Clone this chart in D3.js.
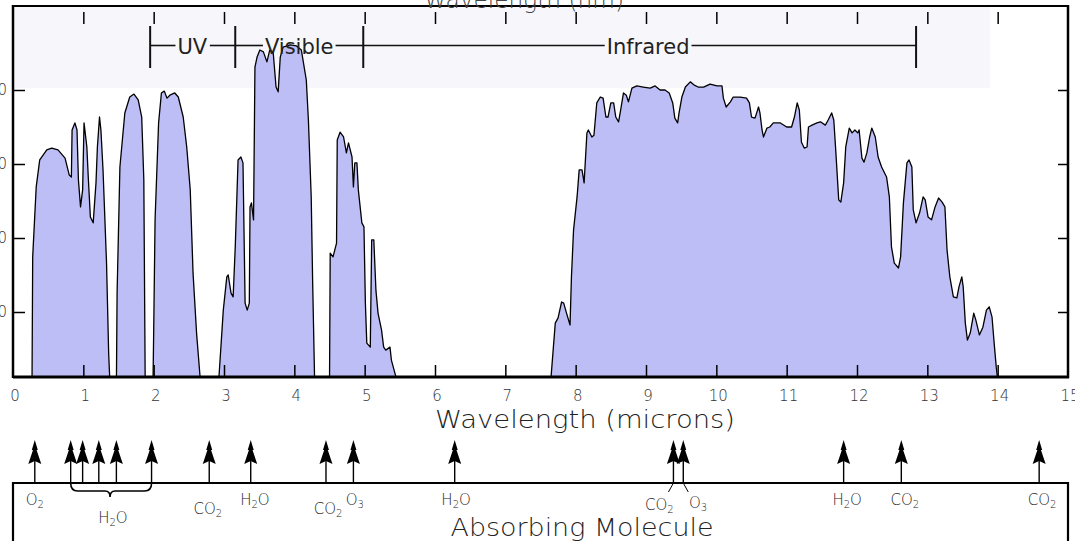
<!DOCTYPE html>
<html><head><meta charset="utf-8">
<script src="https://cdn.jsdelivr.net/npm/d3@7"></script>
<style>
html,body{margin:0;padding:0;background:#fff;overflow:hidden}
svg{display:block}
</style></head><body>
<svg id="c" width="1075" height="541"></svg>
<script>
// ---- data ----
// atmospheric transmission (%) vs wavelength (microns)
const spectrum = [
[0,0],
[0.27,0],[0.28,34.9],[0.33,53.8],[0.38,61.1],[0.48,63.8],[0.55,64.3],[0.64,63.8],[0.74,61.6],[0.80,57.0],[0.83,56.5],[0.84,69.2],[0.88,71.1],[0.91,69.2],[0.93,55.7],[0.96,48.4],[0.99,53.0],[1.01,71.1],[1.05,64.6],[1.07,56.5],[1.10,45.7],[1.14,44.1],[1.18,54.9],[1.20,64.6],[1.23,72.7],[1.25,69.2],[1.28,58.4],[1.33,33.2],[1.36,8.9],[1.38,0],
[1.47,0],[1.48,25.1],[1.52,59.2],[1.59,73.8],[1.66,78.1],[1.72,78.9],[1.78,77.3],[1.83,72.7],[1.86,55.7],[1.88,0],
[1.99,0],[2.00,14.3],[2.02,44.9],[2.07,71.1],[2.11,79.2],[2.15,79.7],[2.19,77.8],[2.23,78.6],[2.30,79.2],[2.35,78.1],[2.42,72.7],[2.47,64.6],[2.52,53.0],[2.56,30.5],[2.61,14.3],[2.67,0],
[2.92,0],[2.99,20.5],[3.04,29.5],[3.06,30.0],[3.10,25.1],[3.13,24.1],[3.16,37.6],[3.20,61.1],[3.24,61.9],[3.27,60.3],[3.30,22.4],[3.33,20.5],[3.36,22.4],[3.37,48.4],[3.39,49.5],[3.42,44.9],[3.44,86.2],[3.47,88.9],[3.51,90.8],[3.56,90.3],[3.61,87.6],[3.65,90.8],[3.70,90.0],[3.74,80.8],[3.77,79.5],[3.80,88.9],[3.84,91.6],[3.94,92.2],[4.03,91.9],[4.10,90.8],[4.17,82.7],[4.20,71.9],[4.24,51.1],[4.26,28.6],[4.29,0],
[4.50,0],[4.51,35.9],[4.55,34.9],[4.60,38.6],[4.61,66.5],[4.65,68.6],[4.70,67.3],[4.74,63.0],[4.77,65.7],[4.82,61.9],[4.84,53.8],[4.86,60.3],[4.89,60.3],[4.91,53.0],[4.96,44.1],[4.99,43.0],[5.01,22.4],[5.03,11.6],[5.08,10.5],[5.10,39.5],[5.13,39.5],[5.16,25.9],[5.19,19.7],[5.24,15.1],[5.27,10.5],[5.30,9.7],[5.36,10.5],[5.38,7.0],[5.43,3.5],[5.48,0],
[7.64,0],[7.71,17.0],[7.75,18.4],[7.80,22.7],[7.83,22.4],[7.87,19.7],[7.92,16.5],[7.94,29.5],[7.97,42.2],[8.02,51.1],[8.05,58.4],[8.09,58.4],[8.12,54.9],[8.16,68.4],[8.18,69.2],[8.23,67.3],[8.26,67.8],[8.30,76.5],[8.35,78.1],[8.39,77.8],[8.43,72.7],[8.46,72.7],[8.50,76.5],[8.54,76.5],[8.57,72.7],[8.61,71.4],[8.64,74.6],[8.68,79.2],[8.72,78.6],[8.75,76.8],[8.80,80.5],[8.87,81.1],[8.96,80.8],[9.06,80.5],[9.13,81.1],[9.20,80.0],[9.27,80.0],[9.33,79.2],[9.38,76.5],[9.41,72.4],[9.45,71.1],[9.47,73.8],[9.51,78.1],[9.56,80.8],[9.63,82.2],[9.68,81.4],[9.74,80.8],[9.82,80.8],[9.91,81.6],[10.01,81.1],[10.08,81.1],[10.10,77.8],[10.14,75.4],[10.20,76.8],[10.24,78.1],[10.34,78.1],[10.43,77.8],[10.47,76.5],[10.50,72.7],[10.55,72.4],[10.60,75.4],[10.62,73.8],[10.65,69.2],[10.67,67.3],[10.72,69.7],[10.76,70.0],[10.81,71.1],[10.91,71.1],[11.00,70.0],[11.07,70.0],[11.11,72.7],[11.15,76.5],[11.18,74.6],[11.21,65.9],[11.25,64.3],[11.29,64.6],[11.31,70.0],[11.36,70.5],[11.43,71.1],[11.48,71.4],[11.55,70.5],[11.59,71.9],[11.64,73.8],[11.67,71.9],[11.70,63.0],[11.74,50.3],[11.77,49.7],[11.81,54.9],[11.84,64.6],[11.89,69.7],[11.93,68.4],[11.97,69.2],[12.01,68.4],[12.03,69.2],[12.07,61.6],[12.10,60.5],[12.14,63.0],[12.18,67.3],[12.21,69.7],[12.26,67.3],[12.30,61.9],[12.35,59.2],[12.42,56.5],[12.46,51.1],[12.49,37.6],[12.53,33.2],[12.59,31.9],[12.62,34.9],[12.66,49.5],[12.71,60.3],[12.74,61.1],[12.78,59.2],[12.80,47.6],[12.84,44.1],[12.89,46.8],[12.94,51.1],[12.97,50.3],[13.01,45.7],[13.06,44.9],[13.11,48.4],[13.16,50.8],[13.21,49.7],[13.25,48.4],[13.28,36.8],[13.32,29.5],[13.37,24.1],[13.42,23.8],[13.45,26.8],[13.49,29.5],[13.51,26.8],[13.54,17.0],[13.57,12.4],[13.61,14.3],[13.66,19.7],[13.69,17.8],[13.74,13.8],[13.79,15.9],[13.84,20.5],[13.88,21.4],[13.92,18.6],[13.95,11.6],[13.98,5.1],[14.01,0],
[15,0]
];
const xTickLabels = d3.range(0, 16);
const xMinorTicks = d3.range(1, 15);
const yTickValues = [20, 40, 60, 80];
const yTickLabels = ["20", "40", "60", "80"];
const regionBounds = [1.95, 3.16, 4.98, 12.84];
const regionNames = ["UV", "Visible", "Infrared"];
const regionLabelAt = [2.55, 4.07, 9.03];
const absorberPos = [0.31, 0.82, 0.99, 1.22, 1.47, 1.97, 2.79, 3.38, 4.45, 4.84, 6.28, 9.39, 9.53, 11.81, 12.63, 14.59];
const moleculeNames = ["O2", "H2O", "CO2", "H2O", "CO2", "O3", "H2O", "CO2", "O3", "H2O", "CO2", "CO2"];
const moleculeAt =    [0.31, 1.42, 2.77, 3.44, 4.48, 4.86, 6.30, 9.19, 9.74, 11.86, 12.68, 14.63];
const moleculeRow =   [0, 2, 1, 0, 1, 0, 0, 0.5, 0.3, 0, 0, 0];

// ---- drawing ----
const svg = d3.select("#c");
const L = 13, R = 1068, T = 6, B = 377;
const x = d3.scaleLinear().domain([0, 15]).range([L, R]);
const y = d3.scaleLinear().domain([0, 100]).range([386, 16]);
const thinFont = "'DejaVu Sans', sans-serif";

// faint background band at the top
svg.append("rect").attr("x", L).attr("y", T).attr("width", x(13.89) - L).attr("height", 88 - T)
  .attr("fill", "#f7f7fb");

svg.append("clipPath").attr("id", "clip").append("rect")
  .attr("x", L).attr("y", T).attr("width", R - L).attr("height", B - T);

const area = d3.area().x(d => x(d[0])).y0(y(0)).y1(d => y(d[1]));
const line = d3.line().x(d => x(d[0])).y(d => y(d[1]));
const g = svg.append("g").attr("clip-path", "url(#clip)");
g.append("path").datum(spectrum).attr("d", area).attr("fill", "#bebef7");
g.append("path").datum(spectrum).attr("d", line).attr("fill", "none")
  .attr("stroke", "#000").attr("stroke-width", 1.3).attr("stroke-linejoin", "round");

// axes ticks
function styleAxis(sel) {
  sel.select(".domain").remove();
  sel.selectAll(".tick line").attr("stroke", "#000").attr("stroke-width", 1.5);
  sel.selectAll(".tick text").remove();
}
svg.append("g").attr("transform", `translate(0,${B})`)
  .call(d3.axisBottom(x).tickValues(xMinorTicks).tickSize(-12).tickFormat(""))
  .call(styleAxis);
svg.append("g").attr("transform", `translate(0,12)`)
  .call(d3.axisBottom(x).tickValues(xMinorTicks).tickSize(12).tickFormat(""))
  .call(styleAxis);
svg.append("g").attr("transform", `translate(${L},0)`)
  .call(d3.axisRight(y).tickValues(yTickValues).tickSize(12).tickFormat(""))
  .call(styleAxis);
svg.append("g").attr("transform", `translate(${R},0)`)
  .call(d3.axisLeft(y).tickValues(yTickValues).tickSize(10).tickFormat(""))
  .call(styleAxis);

// frame
svg.append("line").attr("x1", L).attr("x2", R).attr("y1", T).attr("y2", T).attr("stroke", "#000").attr("stroke-width", 2);
svg.append("line").attr("x1", L).attr("x2", L).attr("y1", T - 1).attr("y2", B + 1).attr("stroke", "#000").attr("stroke-width", 2.5);
svg.append("line").attr("x1", R).attr("x2", R).attr("y1", T - 1).attr("y2", B + 1).attr("stroke", "#000").attr("stroke-width", 2.5);
svg.append("line").attr("x1", L).attr("x2", R + 1).attr("y1", B).attr("y2", B).attr("stroke", "#000").attr("stroke-width", 3);

// x tick labels
svg.append("g").selectAll("text").data(xTickLabels).join("text")
  .attr("x", d => x(d) + 2).attr("y", 401).attr("text-anchor", "middle")
  .attr("font-family", thinFont).attr("font-weight", 200).attr("font-size", 15).attr("fill", "#333")
  .text(d => d);
// y tick labels (cut off at the left edge)
svg.append("g").selectAll("text").data(yTickValues).join("text")
  .attr("x", 7).attr("y", d => y(d) + 5).attr("text-anchor", "end")
  .attr("font-family", thinFont).attr("font-weight", 200).attr("font-size", 15).attr("fill", "#333")
  .text((d, i) => yTickLabels[i]);

// axis titles
svg.append("text").attr("x", 585).attr("y", 428).attr("text-anchor", "middle")
  .attr("font-family", thinFont).attr("font-weight", 200).attr("font-size", 24).attr("fill", "#222")
  .attr("textLength", 300).attr("lengthAdjust", "spacingAndGlyphs").text("Wavelength (microns)");
svg.append("text").attr("x", 524).attr("y", 8).attr("text-anchor", "middle")
  .attr("font-family", thinFont).attr("font-weight", 200).attr("font-size", 24).attr("fill", "#444")
  .attr("textLength", 200).attr("lengthAdjust", "spacingAndGlyphs").text("Wavelength (nm)");

// UV / Visible / Infrared bracket
const br = svg.append("g");
const yb = 45.5;
const labels = regionNames.map((n, i) => {
  const t = br.append("text").attr("x", x(regionLabelAt[i])).attr("y", 54).attr("text-anchor", "middle")
    .attr("font-family", "'DejaVu Sans', sans-serif").attr("font-size", 21).attr("fill", "#222").text(n);
  return t;
});
const boxes = labels.map(t => t.node().getBBox());
let segs = [];
let start = x(regionBounds[0]);
boxes.forEach((b, i) => {
  segs.push([start, b.x - 2]);
  start = b.x + b.width + 2;
  if (i < boxes.length - 1) {
    const mid = x(regionBounds[i + 1]);
    segs.push([start, mid]);
    start = mid;
  }
});
segs.push([start, x(regionBounds[3])]);
segs.forEach(s => br.insert("line", "text").attr("x1", s[0]).attr("x2", s[1]).attr("y1", yb).attr("y2", yb)
  .attr("stroke", "#111").attr("stroke-width", 1.6));
regionBounds.forEach(v => br.append("line").attr("x1", x(v)).attr("x2", x(v)).attr("y1", 26).attr("y2", 68)
  .attr("stroke", "#111").attr("stroke-width", 2));

// ---- absorbing molecule panel ----
const PY = 483;
svg.append("path").attr("d", `M${L},541 L${L},${PY} L${R},${PY} L${R},541`)
  .attr("fill", "none").attr("stroke", "#000").attr("stroke-width", 2.2);
const arrows = svg.append("g");
absorberPos.forEach(v => {
  const cx = x(v);
  arrows.append("line").attr("x1", cx).attr("x2", cx).attr("y1", PY).attr("y2", 458)
    .attr("stroke", "#000").attr("stroke-width", 1.4);
  arrows.append("path").attr("transform", `translate(${cx},440)`)
    .attr("d", "M0,0 L3,10 L1.8,10 L6.5,24 L0,21 L-6.5,24 L-1.8,10 L-3,10 Z").attr("fill", "#000");
});
// brace under the near-infrared water arrows
const b1 = x(absorberPos[1]), b2 = x(absorberPos[5]), bc = x(1.38);
svg.append("path")
  .attr("d", `M${b1},${PY} Q${b1},491 ${b1 + 7},491 L${bc - 5},491 Q${bc},491 ${bc},497 Q${bc},491 ${bc + 5},491 L${b2 - 7},491 Q${b2},491 ${b2},${PY}`)
  .attr("fill", "none").attr("stroke", "#000").attr("stroke-width", 1.6);
// leader lines for 9.4 micron pair
svg.append("line").attr("x1", x(absorberPos[11])).attr("y1", PY).attr("x2", x(absorberPos[11]) - 5).attr("y2", 492)
  .attr("stroke", "#000").attr("stroke-width", 1);
svg.append("line").attr("x1", x(absorberPos[12])).attr("y1", PY).attr("x2", x(absorberPos[12]) + 5).attr("y2", 492)
  .attr("stroke", "#000").attr("stroke-width", 1);

const molG = svg.append("g");
moleculeNames.forEach((name, i) => {
  const t = molG.append("text").attr("x", x(moleculeAt[i])).attr("y", 505 + moleculeRow[i] * 9)
    .attr("text-anchor", "middle").attr("font-family", thinFont).attr("font-weight", 200)
    .attr("font-size", 15).attr("fill", "#222");
  const parts = name.match(/[A-Z][a-z]?|\d/g);
  let wasSub = false;
  parts.forEach(p => {
    const isSub = /\d/.test(p);
    const ts = t.append("tspan").text(p);
    if (isSub) { ts.attr("dy", 3).attr("font-size", 10); }
    else if (wasSub) { ts.attr("dy", -3); }
    wasSub = isSub;
  });
});
svg.append("text").attr("x", 582).attr("y", 536).attr("text-anchor", "middle")
  .attr("font-family", thinFont).attr("font-weight", 200).attr("font-size", 24).attr("fill", "#222")
  .attr("textLength", 263).attr("lengthAdjust", "spacingAndGlyphs").text("Absorbing Molecule");
</script>
</body></html>
